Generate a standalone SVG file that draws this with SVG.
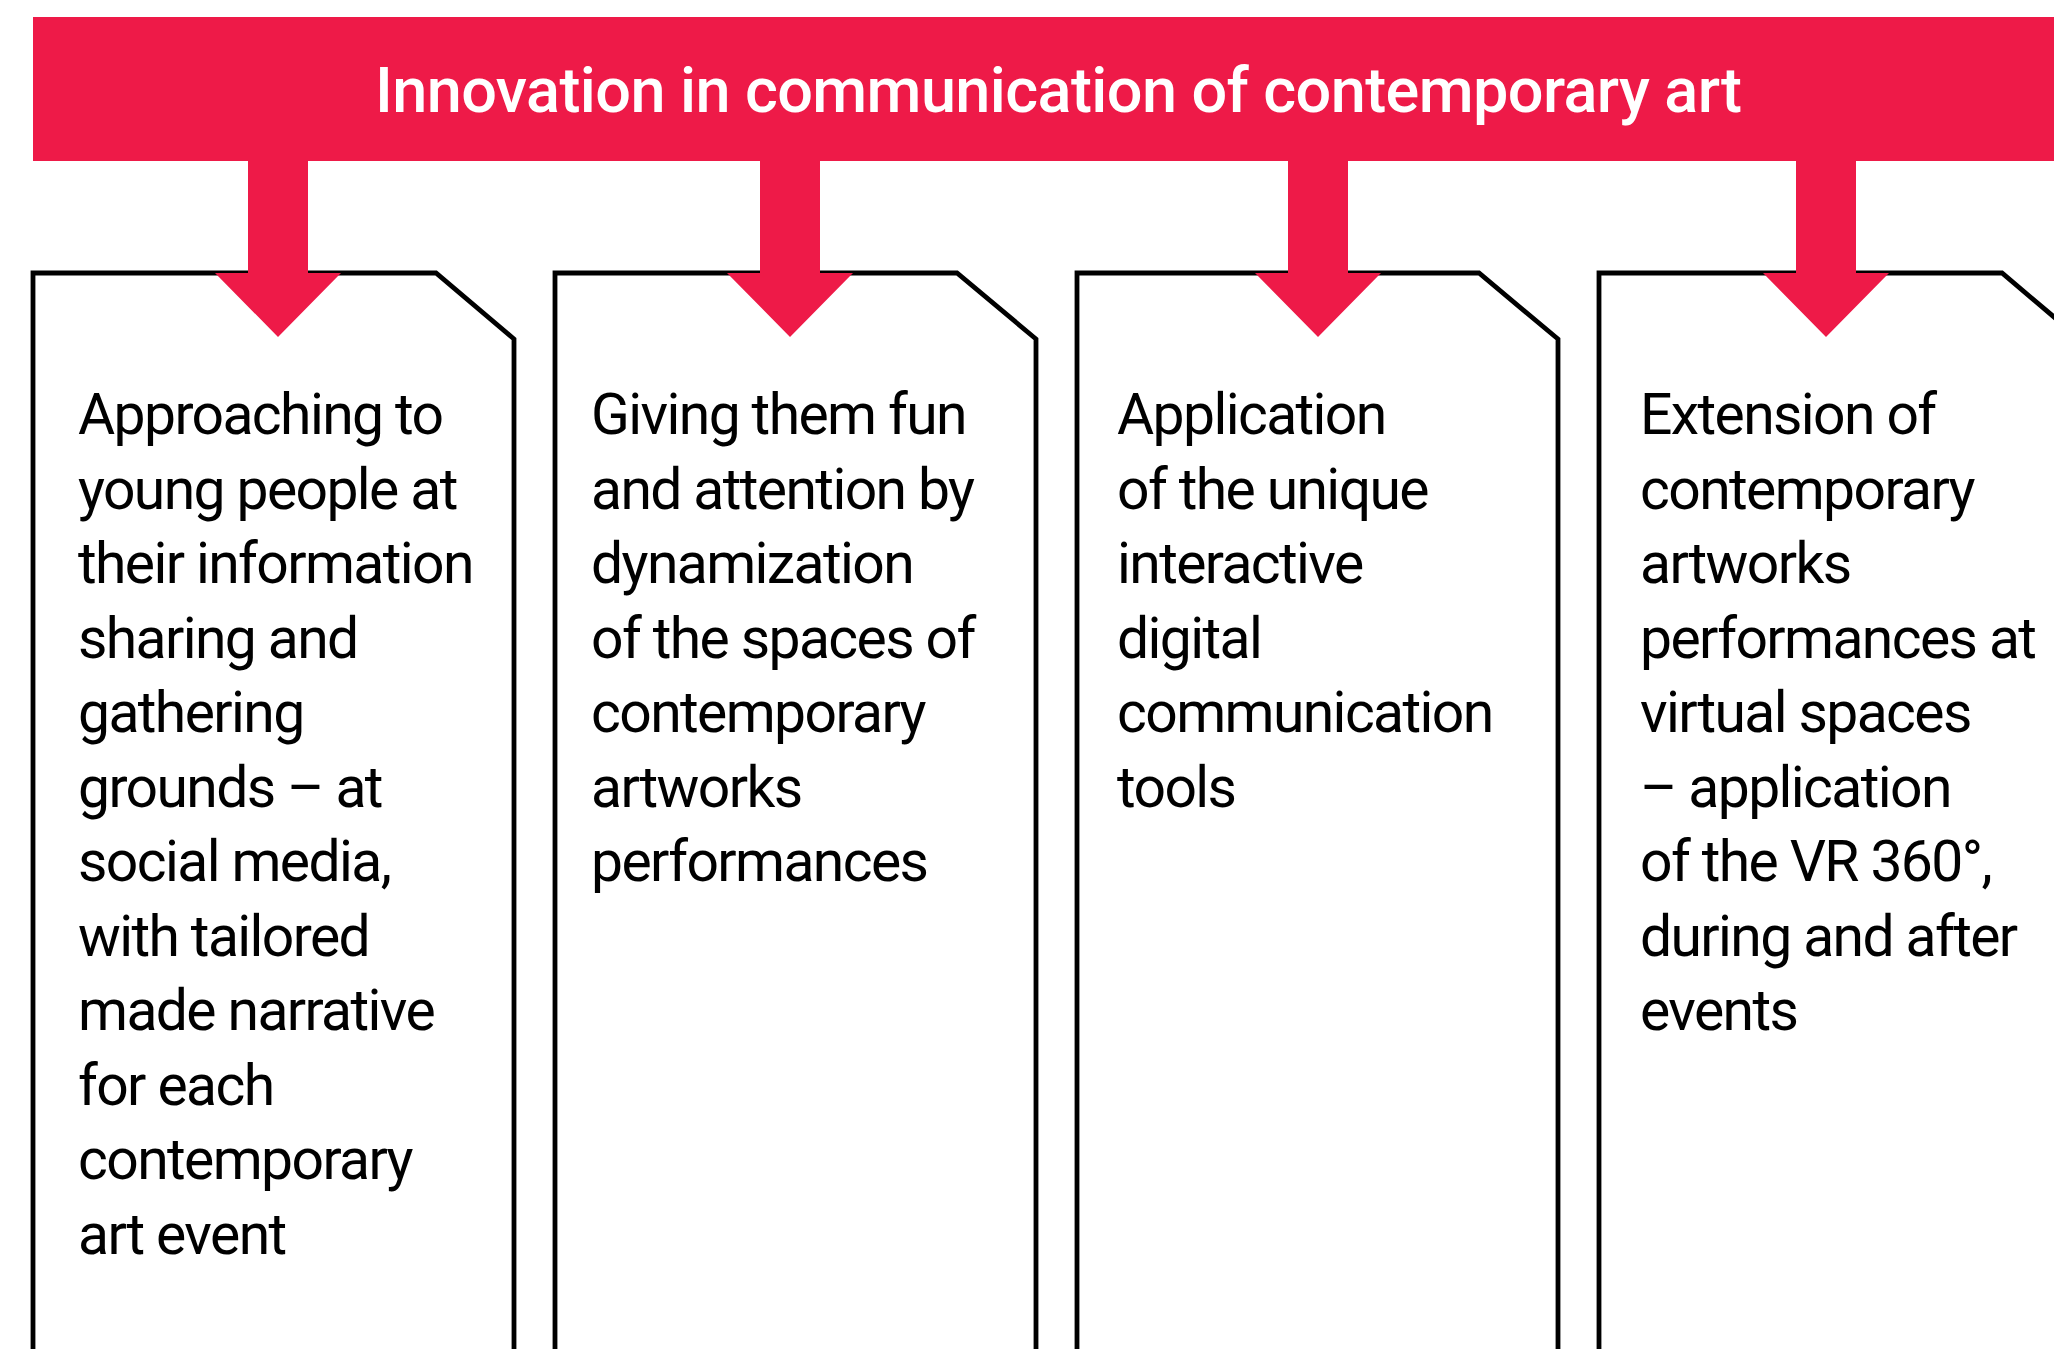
<svg xmlns="http://www.w3.org/2000/svg" width="2054" height="1349" viewBox="0 0 2054 1349">
  <style>
    .box { fill: #ffffff; stroke: #000000; stroke-width: 4.8; stroke-linejoin: miter; }
    .arrow { fill: #EE1A48; }
    .body { font-family: Roboto, "Liberation Sans", sans-serif; font-size: 57px; letter-spacing: -1.6px; fill: #000000; }
    .title { font-family: Roboto, "Liberation Sans", sans-serif; font-size: 63px; font-weight: 500; letter-spacing: -0.6px; fill: #ffffff; }
  </style>

  <rect width="2054" height="1349" fill="#ffffff"/>

  <!-- header banner -->
  <g id="header">
    <rect x="33" y="17" width="2040" height="144" fill="#EE1A48"/>
    <text class="title" x="375" y="112">Innovation in communication of contemporary art</text>
  </g>

  <!-- cards -->
  <g id="card-1">
    <path class="box" d="M33,1360 V273 H436 L514,339 V1360"/>
    <text class="body">
      <tspan x="78" y="434">Approaching to</tspan>
      <tspan x="78" y="508.5">young people at</tspan>
      <tspan x="78" y="583">their information</tspan>
      <tspan x="78" y="657.5">sharing and</tspan>
      <tspan x="78" y="732">gathering</tspan>
      <tspan x="78" y="806.5">grounds – at</tspan>
      <tspan x="78" y="881">social media,</tspan>
      <tspan x="78" y="955.5">with tailored</tspan>
      <tspan x="78" y="1030">made narrative</tspan>
      <tspan x="78" y="1104.5">for each</tspan>
      <tspan x="78" y="1179">contemporary</tspan>
      <tspan x="78" y="1253.5">art event</tspan>
    </text>
  </g>

  <g id="card-2">
    <path class="box" d="M555,1360 V273 H957 L1036,339 V1360"/>
    <text class="body">
      <tspan x="591" y="434">Giving them fun</tspan>
      <tspan x="591" y="508.5">and attention by</tspan>
      <tspan x="591" y="583">dynamization</tspan>
      <tspan x="591" y="657.5">of the spaces of</tspan>
      <tspan x="591" y="732">contemporary</tspan>
      <tspan x="591" y="806.5">artworks</tspan>
      <tspan x="591" y="881">performances</tspan>
    </text>
  </g>

  <g id="card-3">
    <path class="box" d="M1077,1360 V273 H1479 L1558,339 V1360"/>
    <text class="body">
      <tspan x="1117" y="434">Application</tspan>
      <tspan x="1117" y="508.5">of the unique</tspan>
      <tspan x="1117" y="583">interactive</tspan>
      <tspan x="1117" y="657.5">digital</tspan>
      <tspan x="1117" y="732">communication</tspan>
      <tspan x="1117" y="806.5">tools</tspan>
    </text>
  </g>

  <g id="card-4">
    <path class="box" d="M1599,1360 V273 H2002 L2080,339 V1360"/>
    <text class="body">
      <tspan x="1640" y="434">Extension of</tspan>
      <tspan x="1640" y="508.5">contemporary</tspan>
      <tspan x="1640" y="583">artworks</tspan>
      <tspan x="1640" y="657.5">performances at</tspan>
      <tspan x="1640" y="732">virtual spaces</tspan>
      <tspan x="1640" y="806.5">– application</tspan>
      <tspan x="1640" y="881">of the VR 360°,</tspan>
      <tspan x="1640" y="955.5">during and after</tspan>
      <tspan x="1640" y="1030">events</tspan>
    </text>
  </g>

  <!-- connectors: block arrows from banner into each card -->
  <g id="connectors">
    <path class="arrow" d="M248,160 H308 V273 H341 L278,337 L215,273 H248 Z"/>
    <path class="arrow" d="M760,160 H820 V273 H853 L790,337 L727,273 H760 Z"/>
    <path class="arrow" d="M1288,160 H1348 V273 H1381 L1318,337 L1255,273 H1288 Z"/>
    <path class="arrow" d="M1796,160 H1856 V273 H1889 L1826,337 L1763,273 H1796 Z"/>
  </g>
</svg>
